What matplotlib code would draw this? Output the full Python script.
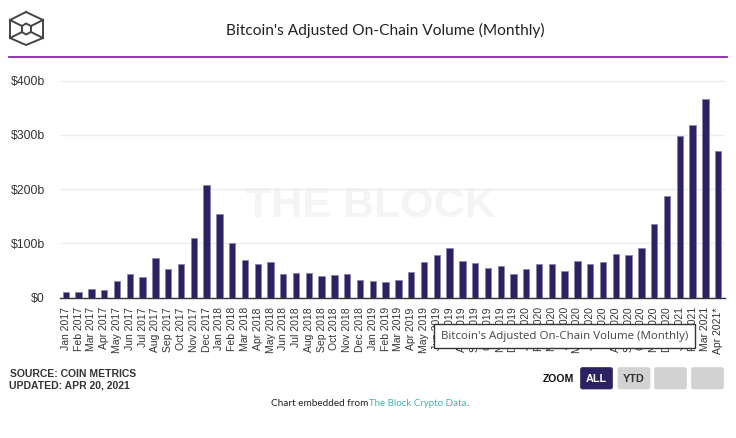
#plot.py
import matplotlib
matplotlib.use('Agg')
import matplotlib.pyplot as plt
from matplotlib.patches import FancyBboxPatch, Rectangle

W, H = 736, 438

#Data
months = ['Jan 2017', 'Feb 2017', 'Mar 2017', 'Apr 2017', 'May 2017', 'Jun 2017', 'Jul 2017', 'Aug 2017',
          'Sep 2017', 'Oct 2017', 'Nov 2017', 'Dec 2017', 'Jan 2018', 'Feb 2018', 'Mar 2018', 'Apr 2018',
          'May 2018', 'Jun 2018', 'Jul 2018', 'Aug 2018', 'Sep 2018', 'Oct 2018', 'Nov 2018', 'Dec 2018',
          'Jan 2019', 'Feb 2019', 'Mar 2019', 'Apr 2019', 'May 2019', 'Jun 2019', 'Jul 2019', 'Aug 2019',
          'Sep 2019', 'Oct 2019', 'Nov 2019', 'Dec 2019', 'Jan 2020', 'Feb 2020', 'Mar 2020', 'Apr 2020',
          'May 2020', 'Jun 2020', 'Jul 2020', 'Aug 2020', 'Sep 2020', 'Oct 2020', 'Nov 2020', 'Dec 2020',
          'Jan 2021', 'Feb 2021', 'Mar 2021', 'Apr 2021*']
volume = [10, 10, 16, 14, 31, 43, 38, 72, 53, 61, 109, 207,
          155, 101, 70, 61, 66, 44, 46, 46, 39, 42, 43, 33,
          31, 29, 33, 47, 66, 78, 92, 68, 64, 55, 59, 44,
          53, 62, 61, 49, 68, 61, 66, 81, 78, 92, 135, 188,
          298, 318, 366, 270]
y_ticks = [0, 100, 200, 300, 400]
y_labels = ['$0', '$100b', '$200b', '$300b', '$400b']

#Colors
navy = '#2b2361'
grey_text = '#333333'

fig = plt.figure(figsize=(W/100, H/100), dpi=100, facecolor='white')

'''Main bar chart'''
#pixel box of plot: x 59-724, y 64-297.5 (from top)
left, right, top, bottom = 59.5, 724.5, 64, 297.5
ax = fig.add_axes([left/W, 1-bottom/H, (right-left)/W, (bottom-top)/H])
ax.bar(range(len(volume)), volume, width=0.5, color=navy, edgecolor='#8a85ad', linewidth=0.6, zorder=3)
ax.set_xlim(-0.5, len(volume)-0.5)
ax.set_ylim(0, 431)
ax.set_yticks(y_ticks)
ax.set_yticklabels(y_labels, fontsize=8.8, color=grey_text, family='Liberation Sans')
ax.set_xticks(range(len(volume)))
ax.set_xticklabels(months, rotation=90, fontsize=7.5, color=grey_text, family='Liberation Sans')
ax.tick_params(axis='x', length=0, pad=7)
ax.tick_params(axis='y', length=0, pad=10.5)
ax.grid(axis='y', color='#ebebeb', linewidth=1, zorder=0)
for side in ['top', 'right', 'left']:
    ax.spines[side].set_visible(False)
ax.spines['bottom'].set_color('#333333')
ax.spines['bottom'].set_linewidth(1)
ax.patch.set_alpha(0)
ax.text(0.468, 0.39, 'THE BLOCK', transform=ax.transAxes, fontsize=31, fontweight='bold',
        family='Liberation Sans', color='#f4f4f4', ha='center', va='center', zorder=1)

'''Overlay in pixel coordinates for header, footer and buttons'''
ov = fig.add_axes([0, 0, 1, 1], zorder=5)
ov.set_xlim(0, W)
ov.set_ylim(H, 0)
ov.axis('off')
ov.patch.set_alpha(0)

#Logo
hex_x = [26, 43, 43, 26, 10, 10, 26]
hex_y = [12, 20, 38, 45, 38, 20, 12]
ov.plot(hex_x, hex_y, color='#444444', lw=1.4)
ov.plot([10, 22], [20, 26], color='#444444', lw=1.4)
ov.plot([43, 31], [20, 26], color='#444444', lw=1.4)
ov.plot([10, 22], [38, 32], color='#444444', lw=1.4)
ov.plot([43, 31], [38, 32], color='#444444', lw=1.4)
ov.plot([22, 26, 31, 31, 26, 22, 22], [26, 23.5, 26, 32, 34.5, 32, 26], color='#444444', lw=1.4)

#Title and rule
ov.text(385, 30, "Bitcoin's Adjusted On-Chain Volume (Monthly)", fontsize=11.2, family='Lato',
        color='#222222', ha='center', va='center')
ov.plot([9, 727], [56.5, 56.5], color='#8e24aa', lw=1.3)

#Source
ov.text(10, 374, 'SOURCE: COIN METRICS', fontsize=7.5, fontweight='bold', family='Liberation Sans',
        color='#333333', va='center')
ov.text(9, 385, 'UPDATED: APR 20, 2021', fontsize=7.5, fontweight='bold', family='Liberation Sans',
        color='#333333', va='center')

#Embed line
ov.text(271, 403, 'Chart embedded from', fontsize=7.2, family='Lato', color='#222222', va='center')
ov.text(369, 403, 'The Block Crypto Data', fontsize=7.0, family='Lato', color='#3fb5b0', va='center')
ov.text(466.5, 403, '.', fontsize=7.0, family='Lato', color='#222222', va='center')

#Zoom buttons
ov.text(558.5, 378.5, 'ZOOM', fontsize=7.6, fontweight='bold', family='Liberation Sans',
        color='#111111', ha='center', va='center')
buttons = [(580.5, navy, 'ALL', 'white'), (618, '#d2d2d2', 'YTD', '#333333'),
           (654.5, '#d2d2d2', '', ''), (691.5, '#d2d2d2', '', '')]
for bx, fc, label, tc in buttons:
    ov.add_patch(FancyBboxPatch((bx+0.5, 368), 31, 20.5, boxstyle='round,pad=0,rounding_size=1.5',
                                fc=fc, ec=fc, lw=1.2))
    if label:
        ov.text(bx+16, 378.5, label, fontsize=7.8, fontweight='bold', family='Liberation Sans',
                color=tc, ha='center', va='center')

#Tooltip covering part of the tick labels
ov.add_patch(Rectangle((433.5, 323.5), 261, 24.5, fc='white', ec='#333333', lw=1))
ov.text(441, 336, "Bitcoin's Adjusted On-Chain Volume (Monthly)", fontsize=8.25, family='Open Sans',
        color='#444444', va='center')

fig.savefig('out.png', dpi=100)
